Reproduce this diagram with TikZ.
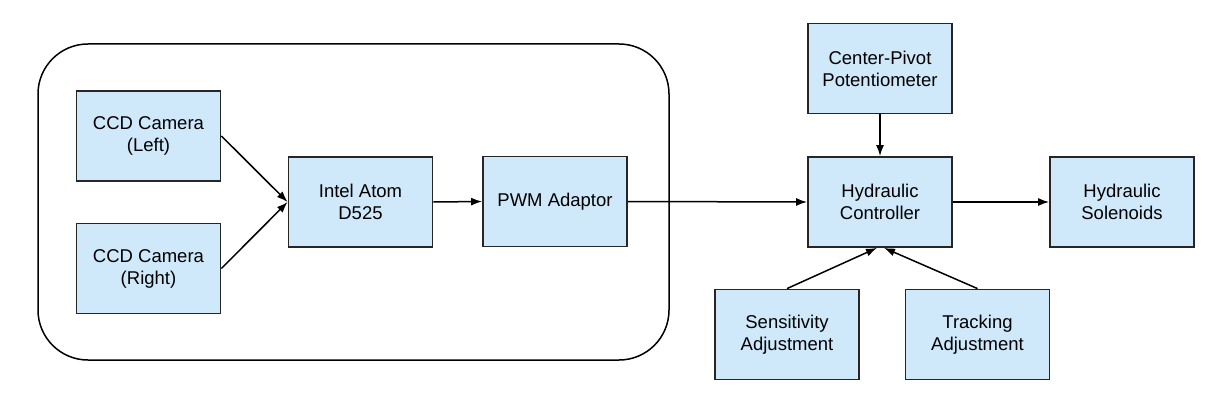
\documentclass[tikz,border=0pt]{standalone}
\usepackage{fontspec}
\setmainfont{Liberation Sans}
\usetikzlibrary{arrows.meta,calc}
\definecolor{boxfill}{RGB}{207,232,250}
\begin{document}
\begin{tikzpicture}[x=1pt,y=-1pt,
  blk/.style={draw=black!85,line width=1.8pt,fill=boxfill,minimum width=144pt,minimum height=90pt,
    inner sep=0pt,align=center,font=\fontsize{18.5}{22}\selectfont},
  conn/.style={line width=1.5pt,-{Latex[length=11pt,width=8pt]}}]
\useasboundingbox (0,0) rectangle (1206,406);
\draw[line width=1.5pt,rounded corners=50pt] (38,44) rectangle (669,360);
\node[blk] (ccdl) at (148.5,136) {CCD Camera\\(Left)};
\node[blk] (ccdr) at (148.5,268.5) {CCD Camera\\(Right)};
\node[blk] (intel) at (360.5,202) {Intel Atom\\D525};
\node[blk] (pwm) at (555,201.5) {PWM Adaptor};
\node[blk] (cp) at (880,68.5) {Center-Pivot\\Potentiometer};
\node[blk] (hc) at (880,202) {Hydraulic\\Controller};
\node[blk] (hs) at (1122,202) {Hydraulic\\Solenoids};
\node[blk] (sens) at (787,334.5) {Sensitivity\\Adjustment};
\node[blk] (track) at (977.5,334.5) {Tracking\\Adjustment};
\draw[conn] (ccdl.east) -- (intel.west);
\draw[conn] (ccdr.east) -- (intel.west);
\draw[conn] (intel.east) -- (pwm.west);
\draw[conn] (pwm.east) -- (hc.west);
\draw[conn] (cp.south) -- (hc.north);
\draw[conn] (hc.east) -- (hs.west);
\draw[conn] (sens.north) -- ($(hc.south)+(-3,0)$);
\draw[conn] (track.north) -- ($(hc.south)+(4,0)$);
\end{tikzpicture}
\end{document}
